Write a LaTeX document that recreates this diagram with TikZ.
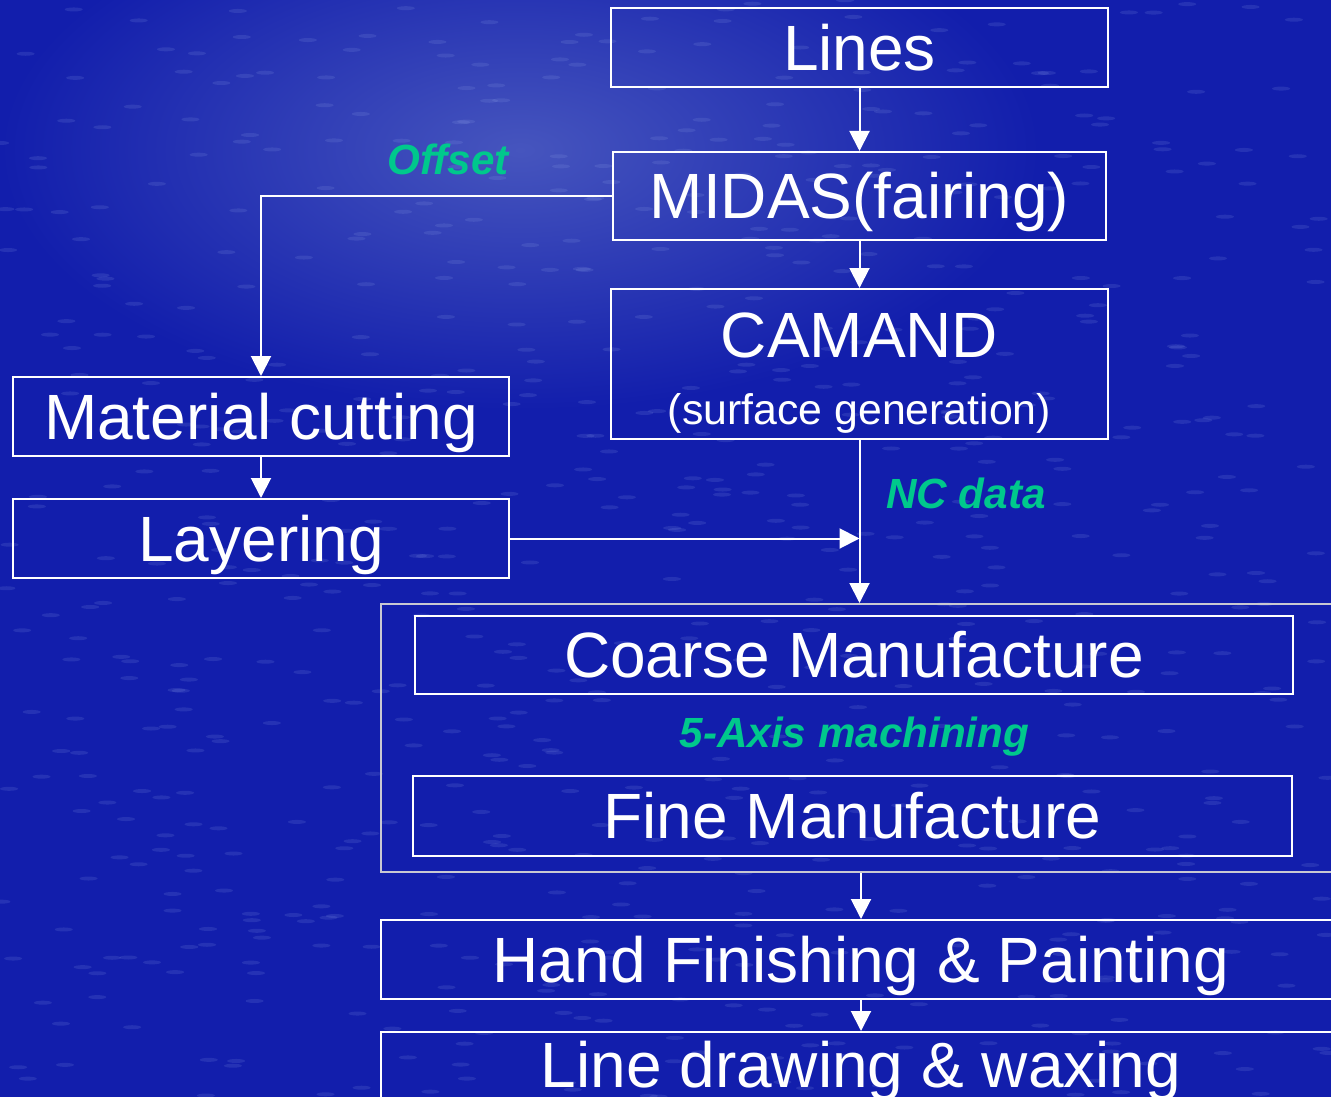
\documentclass[tikz,border=0pt]{standalone}
\usepackage{fontspec}
\setmainfont{Liberation Sans}
\usetikzlibrary{arrows.meta}
\definecolor{bgblue}{RGB}{18,30,172}
\definecolor{lightblue}{RGB}{70,85,190}
\definecolor{speck}{RGB}{150,170,235}
\definecolor{lblgreen}{RGB}{0,200,140}
\definecolor{grpgray}{RGB}{200,200,210}
\begin{document}
\begin{tikzpicture}[x=1pt,y=-1pt,
  box/.style={draw=white, line width=2pt, text=white, inner sep=0pt,
    text height=45.8pt, text depth=0pt, font=\fontsize{64}{70}\selectfont},
  grp/.style={draw=grpgray, line width=2pt, inner sep=0pt},
  btxt/.style={text=white, inner sep=0pt, font=\fontsize{64}{70}\selectfont},
  stxt/.style={text=white, inner sep=0pt, font=\fontsize{42.8}{48}\selectfont},
  lbl/.style={text=lblgreen, inner sep=0pt, font=\fontsize{42.2}{48}\selectfont\bfseries\itshape},
  conn/.style={draw=white, line width=2pt},
  arr/.style={conn, -{Triangle[width=20pt,length=20pt]}}
]
\useasboundingbox (0,0) rectangle (1331,1097);
\clip (0,0) rectangle (1331,1097);
% background
\fill[bgblue] (0,0) rectangle (1331,1097);
\shade[inner color=lightblue, outer color=bgblue] (520,150) ellipse [x radius=520pt, y radius=260pt];
\pgfmathsetseed{7}
\foreach \i in {1,...,700}{
  \pgfmathsetmacro{\px}{rnd*1331}
  \pgfmathsetmacro{\py}{rnd*1097}
  \fill[speck, opacity=0.15] (\px,\py) ellipse [x radius=9pt, y radius=2pt];
}
% boxes
\node[box, minimum width=497pt, minimum height=79pt] (lines) at (859.5,47.5) {Lines};
\node[box, minimum width=493pt, minimum height=88pt] (midas) at (859.5,196) {MIDAS(fairing)};
\node[box, minimum width=497pt, minimum height=150pt] (camand) at (859.5,364) {};
\node[btxt, anchor=base] (camandt) at (859.5,357) {CAMAND};
\node[stxt, anchor=base] (camands) at (859.5,424) {(surface generation)};
\node[box, minimum width=496pt, minimum height=79pt] (matcut) at (261,416.5) {Material cutting};
\node[box, minimum width=496pt, minimum height=79pt] (layer) at (261,538.5) {Layering};
\node[grp, minimum width=960pt, minimum height=268pt] (group) at (861,738) {};
\node[box, minimum width=878pt, minimum height=78pt] (coarse) at (854,655) {Coarse Manufacture};
\node[box, minimum width=879pt, minimum height=80pt] (fine) at (852.5,816) {Fine Manufacture};
\node[box, minimum width=960pt, minimum height=79pt] (hand) at (861,959.5) {Hand Finishing \& Painting};
\node[box, minimum width=960pt, minimum height=79pt] (ldraw) at (861,1071.5) {};
\node[btxt, anchor=base] (ldrawt) at (861,1087) {Line drawing \& waxing};
% labels
\node[lbl, anchor=base] (offset) at (448,175) {Offset};
\node[lbl, anchor=base] (ncdata) at (966,508) {NC data};
\node[lbl, anchor=base] (axis) at (854.5,747) {5-Axis machining};
% connectors
\draw[arr] (lines.south) -- (midas.north);
\draw[arr] (midas.south) -- (camand.north);
\draw[arr] (midas.west) -| (matcut.north);
\draw[arr] (matcut.south) -- (layer.north);
\draw[arr] (layer.east) -- (layer.east -| camand.south);
\draw[arr] (camand.south) -- (camand.south |- group.north);
\draw[arr] (group.south) -- (hand.north);
\draw[arr] (hand.south) -- (ldraw.north);
\end{tikzpicture}
\end{document}
